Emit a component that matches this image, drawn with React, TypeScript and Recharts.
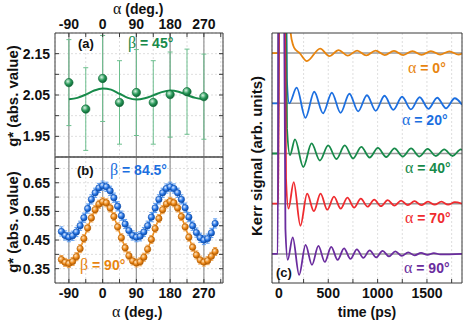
import React from 'react';
import {
  ComposedChart,
  LineChart,
  Line,
  Scatter,
  XAxis,
  YAxis,
  CartesianGrid,
  ReferenceLine,
  ErrorBar,
} from 'recharts';

const FONT = '"Liberation Sans", Arial, sans-serif';
const GREEK = '"Liberation Serif", "DejaVu Serif", serif';

// ---------- Panel (a): beta = 45 deg ----------
const alphaA = [-90, -45, 0, 45, 90, 135, 180, 225, 270];
const gA = [2.08, 2.016, 2.09, 2.032, 2.056, 2.032, 2.051, 2.058, 2.046];
const errA = [0.104, 0.1, 0.104, 0.101, 0.104, 0.101, 0.103, 0.103, 0.103];
const alphaFitA = [-90, -67.5, -45, -22.5, 0, 22.5, 45, 67.5, 90, 112.5, 135, 157.5, 180, 202.5, 225, 247.5, 270];
const gFitA = [2.04, 2.043, 2.051, 2.061, 2.066, 2.063, 2.053, 2.043, 2.039, 2.042, 2.049, 2.057, 2.061, 2.058, 2.05, 2.043, 2.04];

// ---------- Panel (b): beta = 84.5 / 90 deg ----------
const alphaB = [-110, -100, -90, -80, -70, -60, -50, -40, -30, -20, -10, 0, 10, 20, 30, 40, 50, 60, 70, 80, 90, 100, 110, 120, 130, 140, 150, 160, 170, 180, 190, 200, 210, 220, 230, 240, 250, 260, 270, 280, 290, 300];
const gBlue = [0.48, 0.466, 0.46, 0.465, 0.478, 0.5, 0.528, 0.56, 0.592, 0.615, 0.632, 0.64, 0.636, 0.622, 0.598, 0.568, 0.535, 0.506, 0.483, 0.466, 0.46, 0.463, 0.478, 0.5, 0.53, 0.562, 0.592, 0.615, 0.63, 0.636, 0.63, 0.615, 0.592, 0.563, 0.53, 0.5, 0.476, 0.458, 0.45, 0.455, 0.475, 0.508];
const gOrange = [0.382, 0.372, 0.368, 0.375, 0.392, 0.42, 0.455, 0.492, 0.527, 0.556, 0.575, 0.584, 0.58, 0.562, 0.532, 0.496, 0.458, 0.423, 0.395, 0.377, 0.37, 0.374, 0.39, 0.418, 0.452, 0.49, 0.525, 0.556, 0.576, 0.585, 0.58, 0.562, 0.532, 0.496, 0.46, 0.425, 0.398, 0.38, 0.373, 0.378, 0.393, 0.41];
const errBlue = 0.016;
const errOrange = 0.014;

// ---------- Panel (c): Kerr traces ----------
const tO = [-70, -5, 5, 60, 100, 119, 145, 172, 210, 283, 418, 511, 605, 698, 792, 885, 979, 1072, 1166, 1259, 1353, 1446, 1540, 1633, 1727, 1820, 1855];
const kO = [0, 0, 7, 6, 1.5, 0.4, 0.15, 0.06, 0, -0.16, 0.09, -0.06, 0.06, -0.05, 0.05, -0.045, 0.05, -0.04, 0.045, -0.04, 0.04, -0.035, 0.04, -0.03, 0.035, -0.03, -0.01];
const tB = [-70, -5, 5, 60, 80, 105, 180, 269, 358, 447, 536, 625, 714, 803, 892, 981, 1070, 1159, 1248, 1337, 1426, 1515, 1604, 1693, 1782, 1855];
const kB = [0, 0, 7, 6, 0.5, 0, 0.31, -0.29, 0.23, -0.2, 0.21, -0.19, 0.19, -0.16, 0.16, -0.15, 0.15, -0.13, 0.13, -0.12, 0.12, -0.11, 0.11, -0.1, 0.1, -0.03];
const tG = [-70, -5, 5, 60, 82, 112, 163, 247, 331, 415, 499, 583, 667, 751, 835, 919, 1003, 1087, 1171, 1255, 1339, 1423, 1507, 1591, 1675, 1759, 1843, 1855];
const kG = [0, 0, 7, 6, 0.5, -0.03, 0.28, -0.27, 0.2, -0.14, 0.16, -0.11, 0.16, -0.1, 0.13, -0.08, 0.11, -0.07, 0.1, -0.06, 0.1, -0.06, 0.09, -0.05, 0.08, -0.05, 0.08, 0.07];
const tR = [-70, -5, 5, 55, 72, 97, 150, 218, 286, 354, 422, 490, 558, 626, 694, 762, 830, 898, 966, 1034, 1102, 1170, 1238, 1306, 1374, 1442, 1510, 1578, 1646, 1714, 1782, 1855];
const kR = [0, 0, 7, 6, 0.5, -0.1, 0.43, -0.44, 0.2, -0.15, 0.2, -0.12, 0.14, -0.1, 0.12, -0.08, 0.1, -0.06, 0.08, -0.05, 0.07, -0.04, 0.06, -0.03, 0.05, -0.03, 0.04, -0.02, 0.04, -0.02, 0.03, 0];
const tP = [-70, -12, -2, 50, 66, 89, 140, 205, 270, 335, 400, 465, 530, 595, 660, 725, 790, 855, 920, 985, 1050, 1115, 1180, 1245, 1310, 1375, 1440, 1505, 1570, 1635, 1855];
const kP = [0, 0, 7, 6, 0.5, -0.12, 0.33, -0.42, 0.18, -0.22, 0.16, -0.16, 0.14, -0.12, 0.11, -0.1, 0.09, -0.08, 0.07, -0.07, 0.06, -0.05, 0.05, -0.04, 0.03, -0.03, 0.02, -0.02, 0.015, -0.01, 0];
const kerrOffsets = { orange: 4, blue: 3, green: 2, red: 1, purple: 0 };

// ticks
const alphaTicks = [-90, -45, 0, 45, 90, 135, 180, 225, 270, 315];
const alphaLabels = [-90, 0, 90, 180, 270];
const gTicksA = [1.95, 2.0, 2.05, 2.1, 2.15];
const gLabelsA = [1.95, 2.05, 2.15];
const gTicksB = [0.35, 0.4, 0.45, 0.5, 0.55, 0.6, 0.65, 0.7];
const gLabelsB = [0.35, 0.45, 0.55, 0.65];
const timeTicks = [0, 250, 500, 750, 1000, 1250, 1500, 1750];
const timeLabels = [0, 500, 1000, 1500];
const strongAlpha = [-90, 0, 90, 180, 270];
const baselines = [0, 1, 2, 3, 4];

const C = {
  green: '#178a4a',
  greenLight: '#6cbf8e',
  blue: '#1c6fe0',
  blueLight: '#5c9cf0',
  orange: '#e8850f',
  orangeLight: '#f2a54e',
  red: '#ef2b2f',
  purple: '#6a2c9e',
  frame: '#3a3a3a',
};

const xDomAB: [number, number] = [-127, 321];
const yDomA: [number, number] = [1.9, 2.2];
const yDomB: [number, number] = [0.3, 0.74];
const xDomC: [number, number] = [-70, 1855];
const yDomC: [number, number] = [-0.58, 4.4];

const ptsA = alphaA.map((a, i) => ({ a, g: gA[i], e: errA[i] }));
const fitA = alphaFitA.map((a, i) => ({ a, g: gFitA[i] }));
const ptsBlue = alphaB.map((a, i) => ({ a, g: gBlue[i], e: errBlue }));
const ptsOrange = alphaB.map((a, i) => ({ a, g: gOrange[i], e: errOrange }));
const mk = (ts: number[], ks: number[], off: number) => ts.map((t, i) => ({ t, k: ks[i] + off }));
const kerrO = mk(tO, kO, kerrOffsets.orange);
const kerrB = mk(tB, kB, kerrOffsets.blue);
const kerrG = mk(tG, kG, kerrOffsets.green);
const kerrR = mk(tR, kR, kerrOffsets.red);
const kerrP = mk(tP, kP, kerrOffsets.purple);

const has = (arr: number[] | null, v: number) => !!arr && arr.some((l) => Math.abs(l - v) < 1e-6);

const tickFn = (side: string, labels: number[] | null, fmt: (v: number) => string) => (p: any) => {
  const { x, y, payload } = p;
  const v = payload.value;
  const show = has(labels, v);
  const len = 4;
  const ts = { fontFamily: FONT, fontWeight: 700, fontSize: 14, fill: '#111' } as any;
  if (side === 'top') {
    return (
      <g>
        <line x1={x} x2={x} y1={y} y2={y + len} stroke={C.frame} strokeWidth={1} />
        {show && <text x={x} y={y - 4} textAnchor="middle" style={ts}>{fmt(v)}</text>}
      </g>
    );
  }
  if (side === 'bottom') {
    return (
      <g>
        <line x1={x} x2={x} y1={y} y2={y - len} stroke={C.frame} strokeWidth={1} />
        {show && <text x={x} y={y + 15} textAnchor="middle" style={ts}>{fmt(v)}</text>}
      </g>
    );
  }
  if (side === 'left') {
    return (
      <g>
        <line x1={x} x2={x + len} y1={y} y2={y} stroke={C.frame} strokeWidth={1} />
        {show && <text x={x - 5} y={y + 5} textAnchor="end" style={ts}>{fmt(v)}</text>}
      </g>
    );
  }
  return (
    <g>
      <line x1={x} x2={x - len} y1={y} y2={y} stroke={C.frame} strokeWidth={1} />
    </g>
  );
};

const fmtInt = (v: number) => String(Math.round(v));
const fmt2 = (v: number) => v.toFixed(2);
const axisLine = { stroke: C.frame, strokeWidth: 1 };

const sphere = (id: string, r: number, stroke: string) => (p: any) => (
  <circle cx={p.cx} cy={p.cy} r={r} fill={`url(#${id})`} stroke={stroke} strokeWidth={0.6} />
);

const Grad = ({ id, c0, c1, c2 }: { id: string; c0: string; c1: string; c2: string }) => (
  <radialGradient id={id} cx="38%" cy="35%" r="65%">
    <stop offset="0%" stopColor={c0} />
    <stop offset="55%" stopColor={c1} />
    <stop offset="100%" stopColor={c2} />
  </radialGradient>
);

const alphaAxes = (labelTop: boolean) => [
  <XAxis key="xt" xAxisId={0} dataKey="a" type="number" domain={xDomAB} allowDataOverflow ticks={alphaTicks} orientation={labelTop ? 'top' : 'bottom'} height={1} tickSize={0} tickMargin={0} interval={0} tickLine={false} axisLine={axisLine} tick={tickFn(labelTop ? 'top' : 'bottom', alphaLabels, fmtInt)} />,
  <XAxis key="xb" xAxisId="x2" type="number" domain={xDomAB} allowDataOverflow ticks={alphaTicks} orientation={labelTop ? 'bottom' : 'top'} height={1} tickSize={0} tickMargin={0} interval={0} tickLine={false} axisLine={axisLine} tick={tickFn(labelTop ? 'bottom' : 'top', null, fmtInt)} />,
];

const Lbl = ({ x, y, color, greek, rest, size = 14 }: any) => (
  <text x={x} y={y} fill={color} style={{ fontFamily: FONT, fontWeight: 700, fontSize: size }}>
    <tspan style={{ fontFamily: GREEK, fontWeight: 400, fontSize: size + 2 }}>{greek}</tspan>
    {rest}
  </text>
);

export default function App() {
  return (
    <div style={{ position: 'absolute', left: 0, top: 0, width: 463, height: 322, background: '#fff', overflow: 'hidden' }}>
      <svg width={0} height={0} style={{ position: 'absolute' }}>
        <defs>
          <Grad id="sphG" c0="#d9f4e3" c1="#2c9b5c" c2="#0c6333" />
          <Grad id="sphB" c0="#dceaff" c1="#2e7be8" c2="#0c4aa8" />
          <Grad id="sphO" c0="#ffe6c2" c1="#ee8c1e" c2="#b55c00" />
        </defs>
      </svg>

      {/* Panel (a) */}
      <div style={{ position: 'absolute', left: 0, top: 0 }}>
        <ComposedChart width={230} height={160} margin={{ top: 32, left: 54, right: 6, bottom: 2 }}>
          <CartesianGrid stroke="#d6d6d6" strokeDasharray="2 2" strokeWidth={0.8} />
          {alphaAxes(true)}
          <YAxis yAxisId={0} type="number" domain={yDomA} allowDataOverflow ticks={gTicksA} width={1} tickSize={0} tickMargin={0} interval={0} tickLine={false} axisLine={axisLine} tick={tickFn('left', gLabelsA, fmt2)} />
          <YAxis yAxisId="y2" orientation="right" type="number" domain={yDomA} allowDataOverflow ticks={gTicksA} width={1} tickSize={0} tickMargin={0} interval={0} tickLine={false} axisLine={axisLine} tick={tickFn('right', null, fmt2)} />
          {strongAlpha.map((a) => (
            <ReferenceLine key={a} x={a} stroke="#9c9c9c" strokeWidth={1.3} />
          ))}
          <Scatter data={ptsA} dataKey="g" isAnimationActive={false} shape={sphere('sphG', 4.2, '#0e6a36')}>
            <ErrorBar dataKey="e" direction="y" stroke={C.greenLight} strokeWidth={1} width={2.5} />
          </Scatter>
          <Line data={fitA} dataKey="g" type="monotone" stroke={C.green} strokeWidth={2} dot={false} isAnimationActive={false} />
        </ComposedChart>
      </div>

      {/* Panel (b) */}
      <div style={{ position: 'absolute', left: 0, top: 156 }}>
        <ComposedChart width={230} height={166} margin={{ top: 0, left: 54, right: 6, bottom: 38 }}>
          <CartesianGrid stroke="#d6d6d6" strokeDasharray="2 2" strokeWidth={0.8} />
          {alphaAxes(false)}
          <YAxis yAxisId={0} type="number" domain={yDomB} allowDataOverflow ticks={gTicksB} width={1} tickSize={0} tickMargin={0} interval={0} tickLine={false} axisLine={axisLine} tick={tickFn('left', gLabelsB, fmt2)} />
          <YAxis yAxisId="y2" orientation="right" type="number" domain={yDomB} allowDataOverflow ticks={gTicksB} width={1} tickSize={0} tickMargin={0} interval={0} tickLine={false} axisLine={axisLine} tick={tickFn('right', null, fmt2)} />
          {strongAlpha.map((a) => (
            <ReferenceLine key={a} x={a} stroke="#9c9c9c" strokeWidth={1.3} />
          ))}
          <Line data={ptsBlue} dataKey="g" type="monotone" stroke={C.blue} strokeWidth={1.5} dot={false} isAnimationActive={false} />
          <Line data={ptsOrange} dataKey="g" type="monotone" stroke={C.orange} strokeWidth={1.5} dot={false} isAnimationActive={false} />
          <Scatter data={ptsBlue} dataKey="g" isAnimationActive={false} shape={sphere('sphB', 3.2, '#0d4fb0')}>
            <ErrorBar dataKey="e" direction="y" stroke={C.blueLight} strokeWidth={1} width={2} />
          </Scatter>
          <Scatter data={ptsOrange} dataKey="g" isAnimationActive={false} shape={sphere('sphO', 3.2, '#b35c00')}>
            <ErrorBar dataKey="e" direction="y" stroke={C.orangeLight} strokeWidth={1} width={2} />
          </Scatter>
        </ComposedChart>
      </div>

      {/* Panel (c) */}
      <div style={{ position: 'absolute', left: 230, top: 0 }}>
        <LineChart width={233} height={322} margin={{ top: 32, left: 41, right: 0, bottom: 38 }}>
          <CartesianGrid stroke="#d6d6d6" strokeDasharray="2 2" strokeWidth={0.8} horizontal={false} />
          <XAxis xAxisId={0} dataKey="t" type="number" domain={xDomC} allowDataOverflow ticks={timeTicks} orientation="bottom" height={1} tickSize={0} tickMargin={0} interval={0} tickLine={false} axisLine={axisLine} tick={tickFn('bottom', timeLabels, fmtInt)} />
          <XAxis xAxisId="x2" type="number" domain={xDomC} allowDataOverflow ticks={timeTicks} orientation="top" height={1} tickSize={0} tickMargin={0} interval={0} tickLine={false} axisLine={axisLine} tick={tickFn('top', null, fmtInt)} />
          <YAxis yAxisId={0} type="number" domain={yDomC} allowDataOverflow ticks={baselines} width={1} tickSize={0} tickMargin={0} tickLine={false} axisLine={axisLine} tick={false} />
          <YAxis yAxisId="y2" orientation="right" type="number" domain={yDomC} allowDataOverflow ticks={baselines} width={1} tickSize={0} tickMargin={0} tickLine={false} axisLine={axisLine} tick={false} />
          {baselines.map((b) => (
            <ReferenceLine key={b} y={b} stroke="#9a9a9a" strokeWidth={1.5} />
          ))}
          <Line data={kerrO} dataKey="k" type="monotone" stroke={C.orange} strokeWidth={1.8} dot={false} isAnimationActive={false} />
          <Line data={kerrB} dataKey="k" type="monotone" stroke={C.blue} strokeWidth={1.8} dot={false} isAnimationActive={false} />
          <Line data={kerrG} dataKey="k" type="monotone" stroke={C.green} strokeWidth={1.8} dot={false} isAnimationActive={false} />
          <Line data={kerrR} dataKey="k" type="monotone" stroke={C.red} strokeWidth={1.8} dot={false} isAnimationActive={false} />
          <Line data={kerrP} dataKey="k" type="monotone" stroke={C.purple} strokeWidth={1.8} dot={false} isAnimationActive={false} />
        </LineChart>
      </div>

      {/* Text overlay */}
      <svg width={463} height={322} style={{ position: 'absolute', left: 0, top: 0, pointerEvents: 'none' }}>
        <g style={{ fontFamily: FONT, fontWeight: 700 }} fill="#111">
          <Lbl x={113} y={14} color="#111" greek="α" rest=" (deg.)" size={14} />
          <Lbl x={112} y={317} color="#111" greek="α" rest=" (deg.)" size={14} />
          <text transform="translate(18,96) rotate(-90)" textAnchor="middle" style={{ fontFamily: FONT, fontWeight: 700, fontSize: 15 }}>g* (abs. value)</text>
          <text transform="translate(18,222) rotate(-90)" textAnchor="middle" style={{ fontFamily: FONT, fontWeight: 700, fontSize: 15 }}>g* (abs. value)</text>
          <text transform="translate(262,156) rotate(-90)" textAnchor="middle" style={{ fontFamily: FONT, fontWeight: 700, fontSize: 15 }}>Kerr signal (arb. units)</text>
          <text x={367} y={317} textAnchor="middle" style={{ fontFamily: FONT, fontWeight: 700, fontSize: 14 }}>time (ps)</text>
          <text x={78} y={48} style={{ fontFamily: FONT, fontWeight: 700, fontSize: 13 }}>(a)</text>
          <text x={77} y={175} style={{ fontFamily: FONT, fontWeight: 700, fontSize: 13 }}>(b)</text>
          <text x={276} y={277} style={{ fontFamily: FONT, fontWeight: 700, fontSize: 13 }}>(c)</text>
        </g>
        <Lbl x={128} y={48} color={C.green} greek="β" rest=" = 45°" />
        <Lbl x={110} y={175} color={C.blue} greek="β" rest=" = 84.5°" />
        <Lbl x={80} y={270} color={C.orange} greek="β" rest=" = 90°" />
        <Lbl x={408} y={73} color={C.orange} greek="α" rest=" = 0°" />
        <Lbl x={402} y={125} color={C.blue} greek="α" rest=" = 20°" />
        <Lbl x={405} y={173} color={C.green} greek="α" rest=" = 40°" />
        <Lbl x={405} y={223} color={C.red} greek="α" rest=" = 70°" />
        <Lbl x={404} y={273} color={C.purple} greek="α" rest=" = 90°" />
      </svg>
    </div>
  );
}
